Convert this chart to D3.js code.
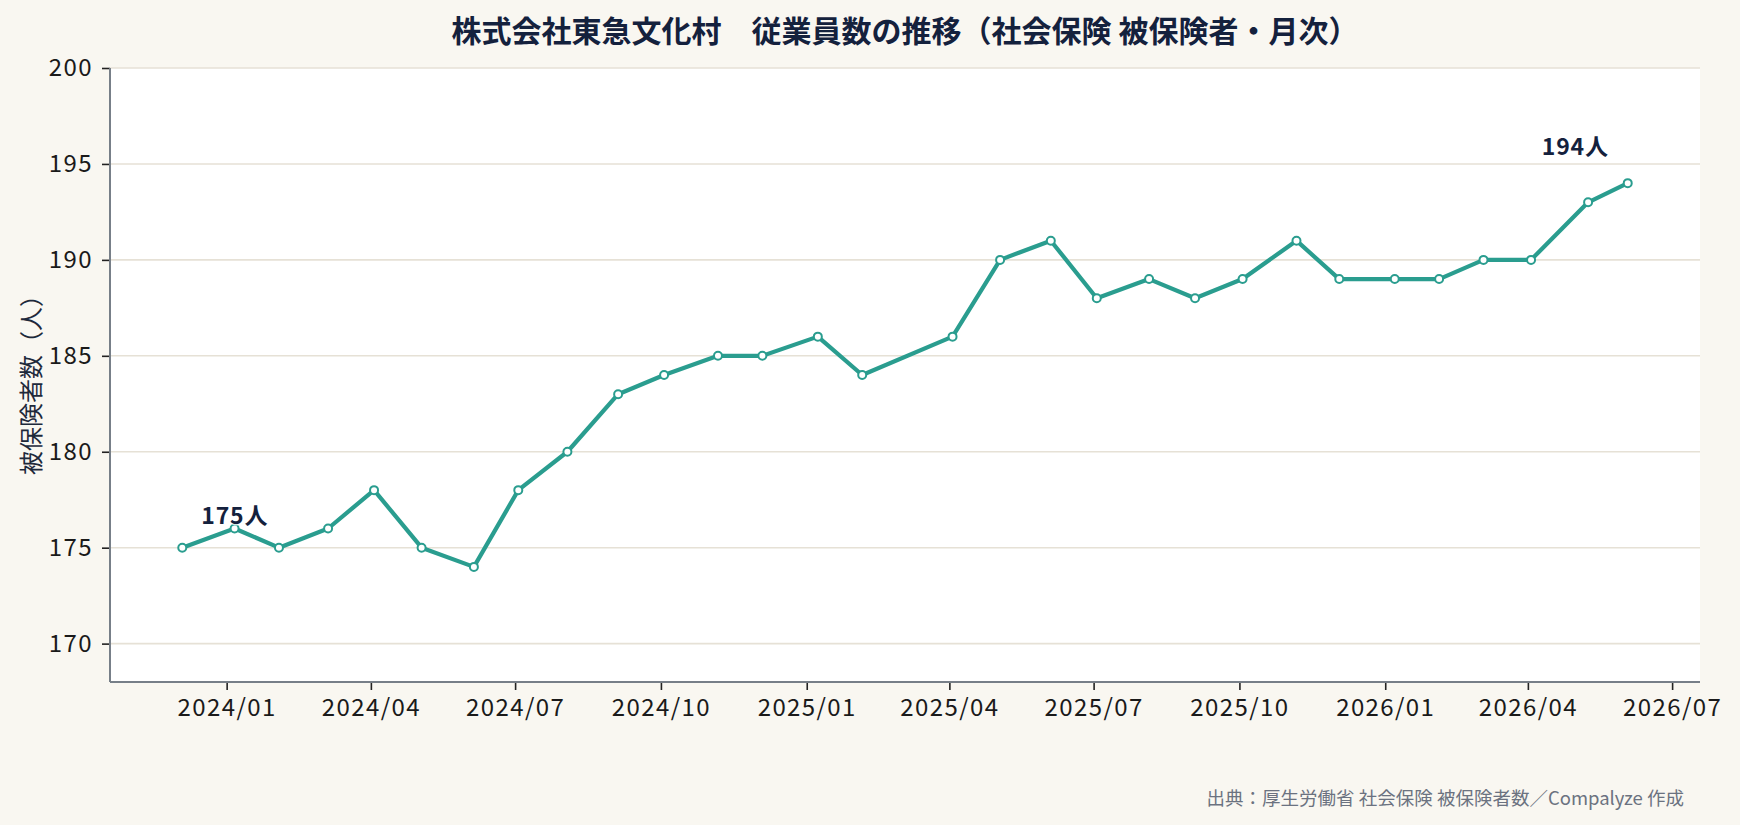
<!DOCTYPE html>
<html>
<head>
<meta charset="utf-8">
<script src="https://cdn.jsdelivr.net/npm/d3@7"></script>
<style>
  html, body { margin: 0; padding: 0; background: #f9f7f1; }
  svg { display: block; }
  text { font-family: "Noto Sans CJK JP", "Noto Sans", sans-serif; }
</style>
</head>
<body>
<svg id="chart" width="1740" height="825"></svg>
<script>
// ---- data ----
const dates = ["2023-12-04","2024-01-06","2024-02-03","2024-03-05","2024-04-03","2024-05-03","2024-06-05","2024-07-03","2024-08-03","2024-09-04","2024-10-03","2024-11-06","2024-12-04","2025-01-08","2025-02-05","2025-04-03","2025-05-03","2025-06-04","2025-07-03","2025-08-05","2025-09-03","2025-10-03","2025-11-06","2025-12-03","2026-01-07","2026-02-04","2026-03-04","2026-04-03","2026-05-09","2026-06-03"];
const employees = [175,176,175,176,178,175,174,178,180,183,184,185,185,186,184,186,190,191,188,189,188,189,191,189,189,189,190,190,193,194];
const yTicks = [170,175,180,185,190,195,200];
const yDomain = [168, 200];
const titleText = "株式会社東急文化村　従業員数の推移（社会保険 被保険者・月次）";
const yLabel = "被保険者数（人）";
const sourceText = "出典：厚生労働省 社会保険 被保険者数／Compalyze 作成";
const unit = "人";

// ---- layout ----
const W = 1740, H = 825;
const m = {left: 110, right: 40, top: 68, bottom: 143};
const svg = d3.select("#chart");
const parse = d3.utcParse("%Y-%m-%d");
const data = dates.map((d, i) => ({date: parse(d), v: employees[i]}));

const ext = d3.extent(data, d => d.date);
const span = ext[1] - ext[0];
const x = d3.scaleUtc()
  .domain([new Date(+ext[0] - span * 0.05), new Date(+ext[1] + span * 0.05)])
  .range([m.left, W - m.right]);
const y = d3.scaleLinear().domain(yDomain).range([H - m.bottom, m.top]);

// plot background
svg.append("rect")
  .attr("x", m.left).attr("y", m.top)
  .attr("width", W - m.left - m.right).attr("height", H - m.top - m.bottom)
  .attr("fill", "#ffffff");

// gridlines
svg.append("g").selectAll("line").data(yTicks).join("line")
  .attr("x1", m.left).attr("x2", W - m.right)
  .attr("y1", d => y(d)).attr("y2", d => y(d))
  .attr("stroke", "#e6e1d6").attr("stroke-width", 1.6);

// axes
const yAxis = svg.append("g")
  .attr("transform", `translate(${m.left},0)`)
  .call(d3.axisLeft(y).tickValues(yTicks).tickSize(8).tickPadding(9));
const xAxis = svg.append("g")
  .attr("transform", `translate(0,${H - m.bottom})`)
  .call(d3.axisBottom(x).ticks(d3.utcMonth.every(3)).tickFormat(d3.utcFormat("%Y/%m")).tickSize(8).tickPadding(9));

[yAxis, xAxis].forEach(g => {
  g.select(".domain").remove();
  g.selectAll(".tick line").attr("stroke", "#222").attr("stroke-width", 1.6);
  g.selectAll(".tick text").attr("font-size", 24).attr("fill", "#1a1a1a")
    .attr("letter-spacing", 1.4)
    .style("font-family", '"Noto Sans CJK JP", sans-serif');
});

// spines
svg.append("line")
  .attr("x1", m.left).attr("x2", m.left)
  .attr("y1", m.top).attr("y2", H - m.bottom)
  .attr("stroke", "#777f88").attr("stroke-width", 2);
svg.append("line")
  .attr("x1", m.left).attr("x2", W - m.right)
  .attr("y1", H - m.bottom).attr("y2", H - m.bottom)
  .attr("stroke", "#777f88").attr("stroke-width", 2);

// line
const color = "#2a9d8f";
svg.append("path")
  .datum(data)
  .attr("fill", "none")
  .attr("stroke", color)
  .attr("stroke-width", 4.2)
  .attr("stroke-linejoin", "round")
  .attr("d", d3.line().x(d => x(d.date)).y(d => y(d.v)));

svg.append("g").selectAll("circle").data(data).join("circle")
  .attr("cx", d => x(d.date)).attr("cy", d => y(d.v))
  .attr("r", 4)
  .attr("fill", "#ffffff")
  .attr("stroke", color)
  .attr("stroke-width", 2);

// annotations
const first = data[0], last = data[data.length - 1];
function annot(d, dx, dy, anchor) {
  svg.append("text")
    .attr("x", x(d.date) + dx).attr("y", y(d.v) + dy)
    .attr("text-anchor", anchor)
    .attr("font-size", 23).attr("font-weight", 700)
    .attr("letter-spacing", 0.8)
    .attr("fill", "#14213d")
    .attr("stroke", "#ffffff").attr("stroke-width", 3).attr("stroke-opacity", 0.8)
    .attr("paint-order", "stroke")
    .text(d.v + unit);
}
annot(first, 19, -24, "start");
annot(last, -19, -28, "end");

// title
svg.append("text")
  .attr("x", (m.left + W - m.right) / 2).attr("y", 29)
  .attr("text-anchor", "middle").attr("dominant-baseline", "central")
  .attr("font-size", 30).attr("font-weight", 700).attr("fill", "#14213d")
  .text(titleText);

// y label
svg.append("text")
  .attr("transform", `translate(29,${(m.top + H - m.bottom) / 2 + 4}) rotate(-90)`)
  .attr("text-anchor", "middle").attr("dominant-baseline", "central")
  .attr("font-size", 24).attr("fill", "#1e293b")
  .text(yLabel);

// source
svg.append("text")
  .attr("x", 1684).attr("y", 797)
  .attr("text-anchor", "end").attr("dominant-baseline", "central")
  .attr("font-size", 18.5).attr("fill", "#6b7280")
  .text(sourceText);
</script>
</body>
</html>
